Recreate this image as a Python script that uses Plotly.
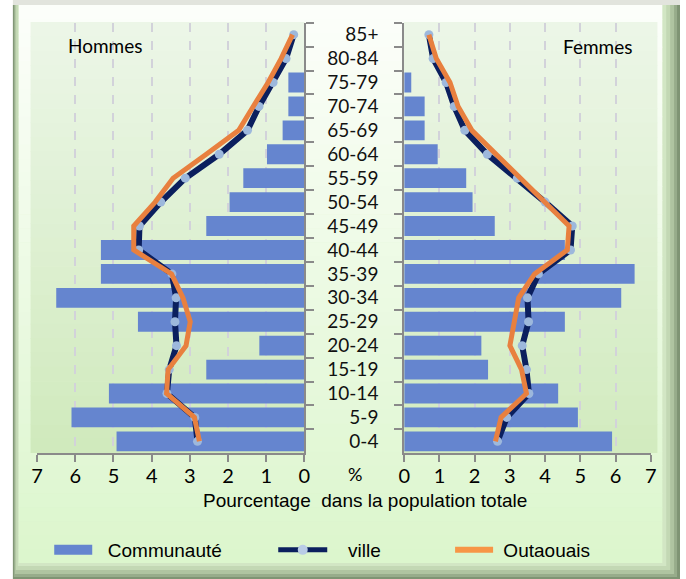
import plotly.graph_objects as go

# ---------------- data ----------------
categories = ["0-4", "5-9", "10-14", "15-19", "20-24", "25-29", "30-34", "35-39",
              "40-44", "45-49", "50-54", "55-59", "60-64", "65-69", "70-74",
              "75-79", "80-84", "85+"]
hommes_communaute = [4.92, 6.10, 5.12, 2.57, 1.18, 4.36, 6.50, 5.33, 5.33, 2.57,
                     1.96, 1.60, 0.98, 0.57, 0.42, 0.42, 0.0, 0.0]
femmes_communaute = [5.90, 4.93, 4.37, 2.38, 2.19, 4.56, 6.16, 6.54, 4.56, 2.57,
                     1.94, 1.76, 0.95, 0.58, 0.58, 0.20, 0.0, 0.0]
hommes_ville = [2.80, 2.87, 3.60, 3.54, 3.35, 3.39, 3.36, 3.47, 4.34, 4.32,
                3.76, 3.12, 2.23, 1.49, 1.19, 0.82, 0.48, 0.28]
femmes_ville = [2.65, 2.91, 3.54, 3.47, 3.35, 3.53, 3.50, 3.81, 4.72, 4.77,
                4.00, 3.21, 2.36, 1.72, 1.42, 1.19, 0.82, 0.70]
hommes_outaouais = [2.75, 2.88, 3.61, 3.57, 3.10, 2.99, 3.18, 3.48, 4.47, 4.47,
                    3.91, 3.44, 2.57, 1.72, 1.34, 0.95, 0.61, 0.31]
femmes_outaouais = [2.59, 2.75, 3.47, 3.33, 3.00, 3.11, 3.25, 3.70, 4.63, 4.68,
                    3.98, 3.33, 2.59, 1.92, 1.53, 1.30, 0.91, 0.70]
x_ticks = [0, 1, 2, 3, 4, 5, 6, 7]

# ---------------- style ----------------
W, H = 686, 579
BLUE = "#6585CF"
NAVY = "#0B1F5E"
MARK = "#9DB8DC"
ORANGE = "#E8803F"
AXIS = "#8A8A8A"
GRID = "#D2D2DA"
LABEL_FONT = "Lato, 'Open Sans', sans-serif"
NARROW_FONT = "'Liberation Sans', Arial, sans-serif"
NB = "\u00a0"


def px(x):
    return x / W


def py(y):
    return 1 - y / H


shapes = []


def rect(x0, y0, x1, y1, color):
    shapes.append(dict(type="rect", xref="paper", yref="paper",
                       x0=px(x0), x1=px(x1), y0=py(y1), y1=py(y0),
                       fillcolor=color, line=dict(width=0), layer="below"))


def lerp(c1, c2, t):
    return "rgb(%d,%d,%d)" % tuple(round(a + (b - a) * t) for a, b in zip(c1, c2))


def gradient(x0, y0, x1, y1, ctop, cbot, n=30):
    for i in range(n):
        ya = y0 + (y1 - y0) * i / n
        yb = y0 + (y1 - y0) * (i + 1) / n + 0.6
        rect(x0, ya, x1, min(yb, y1), lerp(ctop, cbot, i / (n - 1)))


# frame
rect(0, 0, W, H, "#FFFFFF")
rect(7, 0, W, 5, "#E2E4DD")
rect(7, 5, W, H, "#7F9474")
rect(8, 5, 683, 577, "#97AC8B")
rect(9, 5, 680, 574, "#AFC4A1")
rect(10, 5, 676, 570, "#C3D8B4")
rect(12, 5, 672, 566, "#D2E6C4")
gradient(13, 5, 668, 563, (252, 254, 250), (220, 246, 205), 40)
# plot areas
gradient(25, 22, 304, 453, (236, 246, 231), (208, 234, 189), 30)
gradient(405, 22, 663, 453, (236, 246, 231), (210, 235, 191), 30)

fig = go.Figure()

# bars
fig.add_trace(go.Bar(x=hommes_communaute, y=categories, orientation="h",
                     marker=dict(color=BLUE, line=dict(width=0)),
                     xaxis="x", yaxis="y", showlegend=False, name="Communauté"))
fig.add_trace(go.Bar(x=femmes_communaute, y=categories, orientation="h",
                     marker=dict(color=BLUE, line=dict(width=0)),
                     xaxis="x2", yaxis="y2", showlegend=False, name="Communauté"))
# ville
fig.add_trace(go.Scatter(x=hommes_ville, y=categories, mode="lines+markers",
                         line=dict(color=NAVY, width=6),
                         marker=dict(color=MARK, size=9),
                         xaxis="x", yaxis="y", showlegend=False, name="ville"))
fig.add_trace(go.Scatter(x=femmes_ville, y=categories, mode="lines+markers",
                         line=dict(color=NAVY, width=6),
                         marker=dict(color=MARK, size=9),
                         xaxis="x2", yaxis="y2", showlegend=False, name="ville"))
# Outaouais
fig.add_trace(go.Scatter(x=hommes_outaouais, y=categories, mode="lines",
                         line=dict(color=ORANGE, width=5),
                         xaxis="x", yaxis="y", showlegend=False, name="Outaouais"))
fig.add_trace(go.Scatter(x=femmes_outaouais, y=categories, mode="lines",
                         line=dict(color=ORANGE, width=5),
                         xaxis="x2", yaxis="y2", showlegend=False, name="Outaouais"))

# legend entries
fig.add_trace(go.Scatter(x=[None], y=[None], mode="lines", name=NB * 2 + "Communauté",
                         line=dict(color=BLUE, width=13), xaxis="x", yaxis="y",
                         legend="legend"))
fig.add_trace(go.Scatter(x=[None], y=[None], mode="lines+markers", name=NB * 3 + "ville",
                         line=dict(color=NAVY, width=5),
                         marker=dict(color="#B9CCE6", size=10),
                         xaxis="x", yaxis="y", legend="legend2"))
fig.add_trace(go.Scatter(x=[None], y=[None], mode="lines", name=NB + "Outaouais",
                         line=dict(color="#F79646", width=6), xaxis="x", yaxis="y",
                         legend="legend3"))

ydom = [py(453.3), py(22.7)]
common_x = dict(tickvals=x_ticks, showgrid=True, gridcolor=GRID, griddash="dash",
                gridwidth=1.5, showline=True, linecolor=AXIS, linewidth=2,
                ticks="outside", ticklen=7, tickwidth=2, tickcolor=AXIS,
                ticklabelstandoff=-3,
                zeroline=False, tickfont=dict(family=LABEL_FONT, size=20, color="#000"),
                fixedrange=True)
common_y = dict(type="category", categoryorder="array", categoryarray=categories,
                range=[-0.5, 17.5], domain=ydom, showline=True, linecolor=AXIS,
                linewidth=2, ticks="outside", tickson="boundaries", ticklen=8,
                tickwidth=2, tickcolor=AXIS, showgrid=False, zeroline=False,
                fixedrange=True)

legfont = dict(family=NARROW_FONT, size=19, color="#000")
leg_common = dict(orientation="h", xanchor="left", yanchor="middle", y=py(550),
                  font=legfont, bgcolor="rgba(0,0,0,0)", borderwidth=0)


def ann(text, x, y, size, family):
    return dict(text=text, x=px(x), y=py(y), xref="paper", yref="paper",
                xanchor="center", yanchor="middle", showarrow=False,
                font=dict(family=family, size=size, color="#000"))


fig.update_layout(
    width=W, height=H, autosize=False,
    margin=dict(l=0, r=0, t=0, b=0),
    paper_bgcolor="#FFFFFF", plot_bgcolor="rgba(0,0,0,0)",
    bargap=0.17,
    xaxis=dict(domain=[px(31.7), px(303.7)], range=[7, 0], anchor="y", **common_x),
    xaxis2=dict(domain=[px(405.3), px(656.3)], range=[0, 7], anchor="y2", **common_x),
    yaxis=dict(anchor="x", side="right", showticklabels=False, **common_y),
    yaxis2=dict(anchor="x2", side="left", showticklabels=True,
                tickfont=dict(family=LABEL_FONT, size=19, color="#111"),
                ticklabelstandoff=20, **common_y),
    legend=dict(x=px(44), itemwidth=38, **leg_common),
    legend2=dict(x=px(272), itemwidth=49, **leg_common),
    legend3=dict(x=px(452), itemwidth=38, **leg_common),
    shapes=shapes,
    annotations=[
        ann("Hommes", 101, 45, 19, LABEL_FONT),
        ann("Femmes", 602, 46, 19, LABEL_FONT),
        ann("%", 355, 474, 18, LABEL_FONT),
        ann("Pourcentage  dans la population totale", 365, 500, 19, NARROW_FONT),
    ],
    showlegend=True,
)

fig.write_html("out.html", config={"displayModeBar": False},
               post_script="document.body.style.margin='0';document.body.style.overflow='hidden';")
